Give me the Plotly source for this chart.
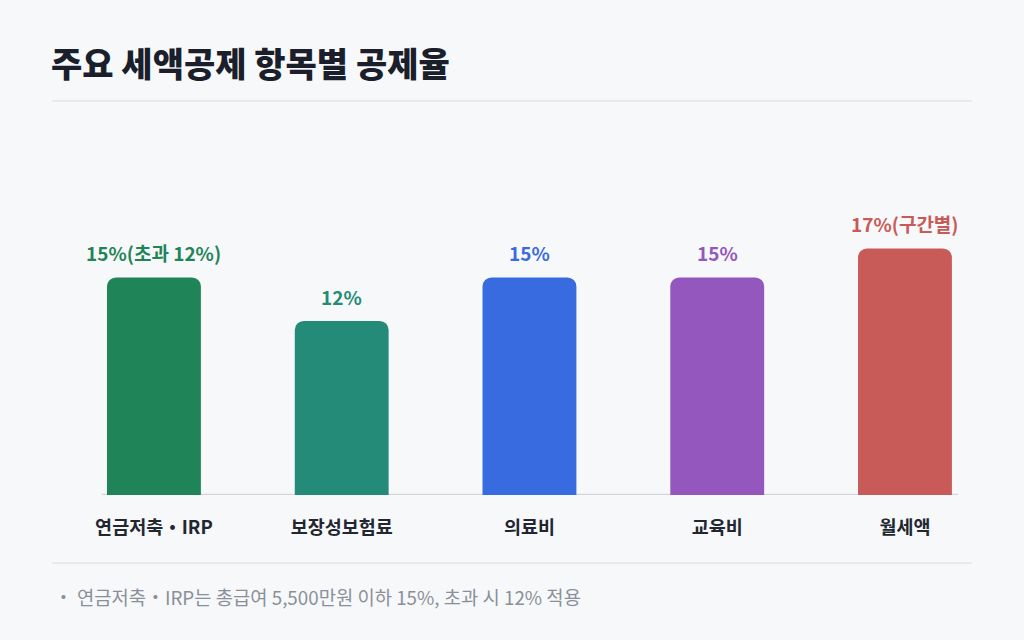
import plotly.graph_objects as go

# Data
categories = ["연금저축・IRP", "보장성보험료", "의료비", "교육비", "월세액"]
rates = [15, 12, 15, 15, 17]
rate_labels = ["15%(초과 12%)", "12%", "15%", "15%", "17%(구간별)"]
colors = ["#1f8458", "#238b78", "#386be0", "#9457bd", "#c85a58"]

title_text = "주요 세액공제 항목별 공제율"
note_text = "・ 연금저축・IRP는 총급여 5,500만원 이하 15%, 초과 시 12% 적용"

FONT = "Noto Sans CJK KR"
BG = "#f7f8fa"
PLOT_H = 640 - 131 - 145  # plot area height in px

fig = go.Figure()

fig.add_trace(go.Bar(
    x=categories,
    y=rates,
    marker=dict(color=colors, cornerradius=9, line=dict(width=0)),
    width=0.5,
    hoverinfo="skip",
    cliponaxis=False,
))

# value labels above bars
for cat, val, lab, col in zip(categories, rates, rate_labels, colors):
    fig.add_annotation(
        x=cat, y=val, text=lab, showarrow=False,
        yanchor="bottom", yshift=9,
        font=dict(family=FONT, size=19, color=col, weight="bold"),
    )

# title
fig.add_annotation(
    xref="paper", yref="paper", x=-0.003, y=1.0, yshift=69,
    text=title_text, showarrow=False,
    xanchor="left", yanchor="middle",
    font=dict(family=FONT, size=34, color="#1b1f2b", weight=900),
)

# footnote
fig.add_annotation(
    xref="paper", yref="paper", x=0.0, y=0, yshift=-101,
    text=note_text, showarrow=False,
    xanchor="left", yanchor="middle",
    font=dict(family=FONT, size=18.8, color="#8a9099"),
)

# separator lines and baseline
top_y = 1 + 30 / PLOT_H
bot_y = -68 / PLOT_H
fig.add_shape(type="line", xref="paper", yref="paper", x0=0, x1=1, y0=top_y, y1=top_y,
              line=dict(color="#e2e5ea", width=1.5), layer="below")
fig.add_shape(type="line", xref="paper", yref="paper", x0=0, x1=1, y0=bot_y, y1=bot_y,
              line=dict(color="#e2e5ea", width=1.5), layer="below")
fig.add_shape(type="line", xref="paper", yref="y", x0=0.054, x1=0.985, y0=0, y1=0,
              line=dict(color="#d3d6dc", width=2.5), layer="below")

fig.update_layout(
    width=1024, height=640,
    paper_bgcolor=BG, plot_bgcolor=BG,
    margin=dict(l=52, r=52, t=131, b=145),
    showlegend=False,
    font=dict(family=FONT),
    xaxis=dict(
        range=[-0.543, 4.357],
        showgrid=False, zeroline=False, showline=False,
        ticks="", ticklabelstandoff=19,
        tickfont=dict(family=FONT, size=18.5, color="#222630", weight="bold"),
        fixedrange=True,
    ),
    yaxis=dict(
        range=[0, 25.1],
        visible=False, showgrid=False, zeroline=False,
        fixedrange=True,
    ),
)

fig.write_html(
    "out.html",
    config={"displayModeBar": False},
    post_script="document.body.style.margin='0';document.body.style.background='#f7f8fa';",
)
